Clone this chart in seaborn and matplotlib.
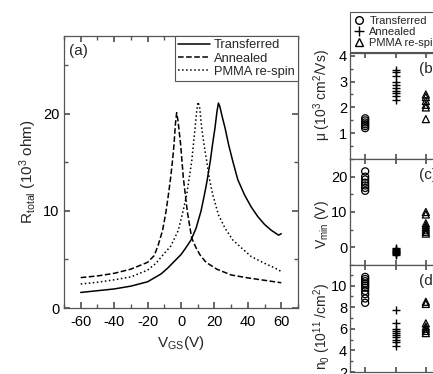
import numpy as np
import pandas as pd
import seaborn as sns
import matplotlib
matplotlib.use("Agg")
import matplotlib.pyplot as plt
from matplotlib.lines import Line2D
from matplotlib.ticker import MultipleLocator

# (a) R_total vs V_GS
v_transferred = [-60, -50, -40, -30, -20, -12, -8, -4, 0, 2.5, 6, 9, 12, 14, 15.5, 17.5, 19, 20.3, 21.5, 22.4,
                 23.3, 24.5, 26.4, 28.5, 31, 34, 38, 42, 46, 50, 54, 58.4, 60]
r_transferred = [1.6, 1.78, 1.96, 2.25, 2.7, 3.5, 4.1, 4.8, 5.5, 6.1, 7.0, 8.2, 10.0, 11.65, 13.0, 15.1, 17.0, 18.5, 20.2, 21.1,
                 20.7, 19.8, 18.5, 16.8, 15.1, 13.2, 11.65, 10.4, 9.4, 8.6, 8.0, 7.5, 7.65]

v_annealed = [-60, -50, -40, -30, -20, -16, -13.6, -11, -9, -7.5, -6.2, -5, -4.2, -3.3, -2.6, -1.8, -0.2, 1.4, 3.8,
              6.4, 9, 11.4, 15, 21.4, 30, 40, 50, 60]
r_annealed = [3.13, 3.3, 3.57, 4.0, 4.7, 5.4, 6.5, 8.0, 9.9, 11.7, 13.4, 15.3, 16.8, 19.0, 20.1, 19.3, 16.8, 13.4, 9.9,
              7.2, 6.2, 5.46, 4.7, 4.0, 3.4, 3.1, 2.85, 2.6]

v_pmma = [-60, -50, -40, -30, -20, -15, -10.6, -6, -1.6, 1, 3.4, 5, 6.4, 8.4, 9.4, 10.2, 11.2, 12.4, 13.8, 15.4, 17,
          19, 22.4, 26.4, 31, 36.4, 42, 50, 56.4, 60]
r_pmma = [2.47, 2.65, 2.9, 3.2, 3.9, 4.6, 5.5, 6.4, 8.0, 9.8, 11.65, 13.5, 15.1, 18.5, 20.3, 21.2, 20.6, 18.5, 16.8, 15.1, 13.3,
          11.65, 9.6, 8.2, 7.0, 6.15, 5.3, 4.6, 4.1, 3.75]

# (b)-(d) device statistics
mu_transferred = [1.2, 1.28, 1.35, 1.42, 1.5, 1.58]
mu_annealed = [2.3, 2.45, 2.55, 2.65, 2.75, 2.85, 3.0, 3.2, 3.35, 3.45]
mu_pmma = [2.5, 2.4, 2.25, 2.1, 2.0, 1.55]

vmin_transferred = [16.0, 16.8, 17.5, 18.3, 19.2, 20.0, 21.5]
vmin_annealed = [-2.2, -1.9, -1.6, -1.4, -1.2, -1.0, -0.8, -0.5, -0.2]
vmin_pmma = [10.0, 9.3, 6.8, 6.2, 5.6, 5.0, 4.4, 3.9]

n0_transferred = [8.4, 8.8, 9.2, 9.5, 9.8, 10.0, 10.2, 10.4, 10.6, 10.8]
n0_annealed = [7.7, 6.5, 6.0, 5.8, 5.6, 5.4, 5.2, 5.0, 4.8, 4.4]
n0_pmma = [8.5, 8.3, 6.5, 6.2, 6.0, 5.8, 5.6]

labels = ["Transferred", "Annealed", "PMMA re-spin"]

sns.set_theme(style="ticks")
plt.rcParams["font.family"] = ["Liberation Sans", "DejaVu Sans"]
plt.rcParams["mathtext.fontset"] = "custom"
plt.rcParams["mathtext.rm"] = "Liberation Sans"
plt.rcParams["mathtext.it"] = "Liberation Sans:italic"
plt.rcParams["axes.unicode_minus"] = False
plt.rcParams["axes.edgecolor"] = "#555555"
plt.rcParams["axes.linewidth"] = 0.9
plt.rcParams["xtick.color"] = "#555555"
plt.rcParams["ytick.color"] = "#555555"
plt.rcParams["xtick.labelcolor"] = "black"
plt.rcParams["ytick.labelcolor"] = "black"

W, H = 433, 374
fig = plt.figure(figsize=(W / 100, H / 100), dpi=100)


def px_axes(x0, y0, x1, y1):
    return fig.add_axes([x0 / W, 1 - y1 / H, (x1 - x0) / W, (y1 - y0) / H])


# ---- panel (a)
ax = px_axes(64, 36, 298, 308)
styles = [("-", None), ("--", (0, (5, 2.5))), (":", (0, (1, 2)))]
for (v, r), lab, (ls, dash) in zip(
        [(v_transferred, r_transferred), (v_annealed, r_annealed), (v_pmma, r_pmma)], labels, styles):
    df = pd.DataFrame({"V": v, "R": r})
    line_kw = {"dashes": dash} if dash is not None else {}
    sns.lineplot(data=df, x="V", y="R", ax=ax, color="black", linewidth=1.1,
                 linestyle=ls, label=lab, sort=False, **line_kw)

ax.set_xlim(-70, 70)
ax.set_ylim(0, 28)
ax.xaxis.set_major_locator(MultipleLocator(20))
ax.xaxis.set_minor_locator(MultipleLocator(10))
ax.yaxis.set_major_locator(MultipleLocator(10))
ax.yaxis.set_minor_locator(MultipleLocator(5))
ax.tick_params(which="both", direction="in", top=True, right=True, labelsize=10.5)
ax.tick_params(which="major", length=4)
ax.tick_params(which="minor", length=3)
ax.tick_params(axis="x", pad=5)
ax.set_xlabel(r"V$_{\mathrm{GS}}$(V)", fontsize=11, labelpad=4)
ax.set_ylabel(r"R$_{\mathrm{total}}$ (10$^3$ ohm)", fontsize=11, labelpad=3)
ax.text(0.02, 0.97, "(a)", transform=ax.transAxes, fontsize=11, va="top", ha="left")
leg = ax.legend(loc="upper right", borderaxespad=0, fontsize=9.3, handlelength=2.5,
                handletextpad=0.3, labelspacing=0.1, borderpad=0.25, fancybox=False,
                framealpha=1, edgecolor="#555555")
leg.get_frame().set_linewidth(0.8)

# ---- panels (b)-(d)
right = [
    (53, 159, (0.01, 4.1), [mu_transferred, mu_annealed, mu_pmma], 1, 0.5, "(b)"),
    (159, 265, (-5, 25), [vmin_transferred, vmin_annealed, vmin_pmma], 10, 5, "(c)"),
    (265, 372, (2, 11.9), [n0_transferred, n0_annealed, n0_pmma], 2, 1, "(d)"),
]
markers = [("o", 26, "none"), ("+", 40, "black"), ("^", 26, "none")]
for y0, y1, ylim, groups, major, minor, tag in right:
    axr = px_axes(350, y0, 441, y1)
    for i, (vals, (mk, size, fc)) in enumerate(zip(groups, markers)):
        xs = [i + 1] * len(vals)
        if mk == "+":
            sns.scatterplot(x=xs, y=vals, ax=axr, marker=mk, s=size, color="black",
                            linewidth=1.0, legend=False)
        else:
            sns.scatterplot(x=xs, y=vals, ax=axr, marker=mk, s=size, facecolors=fc,
                            edgecolors="black", linewidth=0.9, legend=False)
    axr.set_xlim(0.5, 3.5)
    axr.set_ylim(*ylim)
    axr.set_xticks([1, 2, 3])
    axr.set_xticklabels([])
    axr.yaxis.set_major_locator(MultipleLocator(major))
    axr.yaxis.set_minor_locator(MultipleLocator(minor))
    axr.tick_params(which="both", direction="in", top=True, labelsize=10.5, pad=2)
    axr.tick_params(which="major", length=3.5)
    axr.tick_params(which="minor", length=2.5)
    axr.set_xlabel("")
    axr.set_ylabel("")
    axr.text(2.77, ylim[1] - (ylim[1] - ylim[0]) * 0.15, tag, fontsize=11, va="center", ha="left")

fig.text(322 / W, 1 - 95 / H, "μ (10$^3$ cm$^2$/Vs)", rotation=90, ha="center", va="center", fontsize=10)
fig.text(322 / W, 1 - 225 / H, r"V$_{\mathrm{min}}$ (V)", rotation=90, ha="center", va="center", fontsize=10)
fig.text(322 / W, 1 - 327 / H, r"n$_0$ (10$^{11}$ /cm$^2$)", rotation=90, ha="center", va="center", fontsize=10)

handles = [
    Line2D([], [], marker="o", linestyle="none", markerfacecolor="none", markeredgecolor="black", markersize=5.5),
    Line2D([], [], marker="+", linestyle="none", color="black", markersize=7),
    Line2D([], [], marker="^", linestyle="none", markerfacecolor="none", markeredgecolor="black", markersize=5.5),
]
rleg = fig.legend(handles, labels, loc="upper left", bbox_to_anchor=(350 / W, 1 - 12 / H),
                  borderaxespad=0, fontsize=8, handlelength=0.9, handletextpad=0.5, labelspacing=0.1,
                  borderpad=0.35, fancybox=False, framealpha=1, edgecolor="#555555")
rleg.get_frame().set_linewidth(0.8)

fig.savefig("out.png", dpi=100)
